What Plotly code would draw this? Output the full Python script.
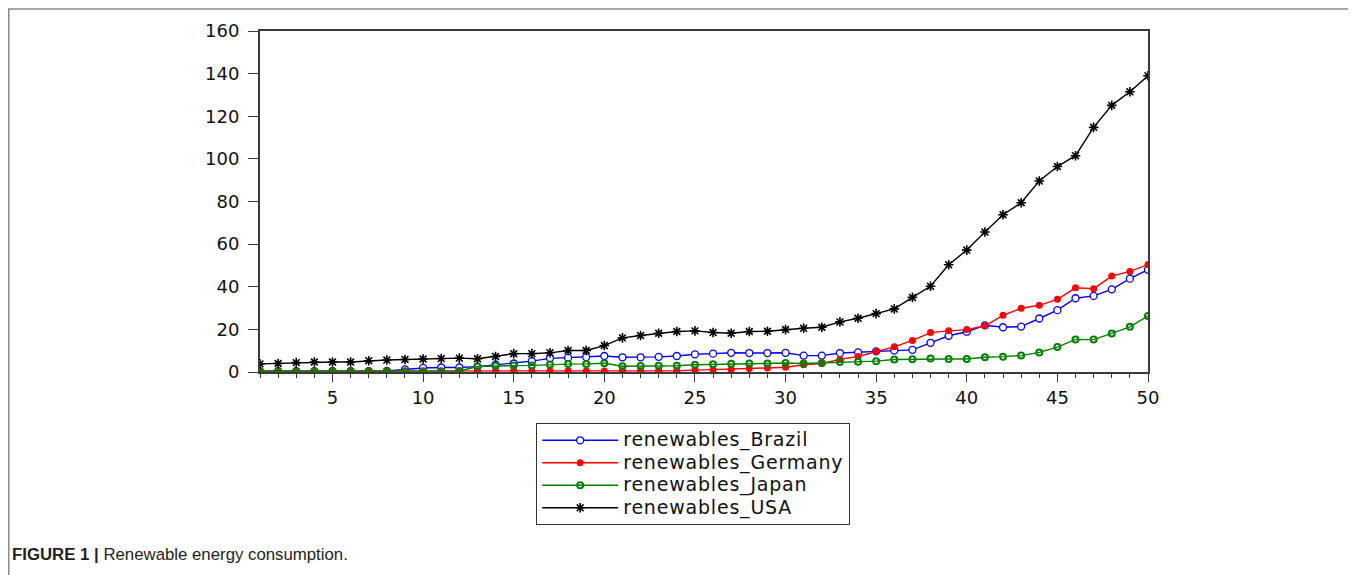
import plotly.graph_objects as go

periods = list(range(1, 51))

brazil = [0.4, 0.4, 0.4, 0.4, 0.4, 0.4, 0.4, 0.5, 1.2, 1.9,
          2.1, 2.1, 2.5, 3.4, 4.0, 5.1, 6.4, 6.7, 7.0, 7.5,
          6.9, 6.9, 7.1, 7.5, 8.3, 8.6, 9.0, 8.9, 8.9, 9.0,
          7.7, 7.7, 8.9, 9.2, 9.7, 10.1, 10.4, 13.7, 17.0, 18.9,
          21.9, 21.0, 21.3, 25.1, 29.0, 34.6, 35.7, 38.8, 43.8, 48.0]

germany = [0.4, 0.4, 0.4, 0.4, 0.4, 0.4, 0.4, 0.4, 0.4, 0.4,
           0.4, 0.4, 0.6, 0.6, 0.6, 0.6, 0.6, 0.6, 0.5, 0.5,
           0.6, 0.6, 0.6, 0.6, 0.9, 1.1, 1.2, 1.6, 1.9, 2.2,
           3.4, 4.0, 5.9, 7.3, 9.7, 11.8, 14.8, 18.5, 19.3, 19.9,
           21.7, 26.6, 29.9, 31.3, 34.1, 39.5, 39.1, 45.0, 47.2, 50.4]

japan = [0.4, 0.4, 0.4, 0.4, 0.4, 0.4, 0.4, 0.4, 0.4, 0.4,
         0.4, 0.5, 2.6, 2.9, 3.0, 3.1, 3.5, 3.7, 3.8, 4.1,
         2.7, 2.8, 2.9, 2.9, 3.4, 3.6, 3.9, 4.0, 4.0, 4.2,
         4.0, 4.2, 4.7, 4.8, 5.1, 5.9, 6.0, 6.3, 6.1, 6.1,
         6.9, 7.2, 7.7, 9.2, 11.7, 15.3, 15.2, 18.1, 21.2, 26.3]

usa = [3.8, 4.0, 4.4, 4.7, 4.7, 4.7, 5.3, 5.6, 5.9, 6.1,
       6.3, 6.5, 6.2, 7.3, 8.6, 8.6, 9.0, 10.1, 10.1, 12.4,
       16.0, 17.1, 18.2, 19.0, 19.3, 18.5, 18.2, 19.0, 19.1, 19.9,
       20.5, 21.0, 23.5, 25.2, 27.4, 29.6, 35.0, 40.2, 50.3, 57.2,
       65.7, 73.8, 79.4, 89.6, 96.4, 101.5, 114.8, 125.1, 131.5, 139.0]

series_names = ["renewables_Brazil", "renewables_Germany", "renewables_Japan", "renewables_USA"]
y_ticks = [0, 20, 40, 60, 80, 100, 120, 140, 160]
x_ticks = [5, 10, 15, 20, 25, 30, 35, 40, 45, 50]
caption_bold = "FIGURE 1 |"
caption_text = "Renewable energy consumption."

# the page body has an 8px margin, so the figure is drawn 8px smaller
OFF = 8
W, H = 1356 - OFF, 575 - OFF
# plot area in page pixels
L, R, T, B = 259.5, 1148.5, 29, 371.7


def px_x(p):
    return (p - L) / (R - L)


def px_y(p):
    return (B - p) / (B - T)


def legend_label(s):
    return '<span style="font-size:19px;letter-spacing:0.8px">' + s + '</span>'


fig = go.Figure()
fig.add_trace(go.Scatter(
    x=periods, y=brazil, name=legend_label(series_names[0]), mode="lines+markers",
    line=dict(color="#0000FF", width=1.4),
    marker=dict(symbol="circle", size=7, color="white", line=dict(color="#0000FF", width=1.3))))
fig.add_trace(go.Scatter(
    x=periods, y=germany, name=legend_label(series_names[1]), mode="lines+markers",
    line=dict(color="#FF0000", width=1.4),
    marker=dict(symbol="circle", size=7, color="#FF0000", line=dict(color="#FF0000", width=0))))
fig.add_trace(go.Scatter(
    x=periods, y=japan, name=legend_label(series_names[2]), mode="lines+markers",
    line=dict(color="#008000", width=1.4),
    marker=dict(symbol="circle-open", size=6, color="#008000", line=dict(color="#008000", width=2))))
fig.add_trace(go.Scatter(
    x=periods, y=usa, name=legend_label(series_names[3]), mode="lines+markers",
    line=dict(color="#000000", width=1.4),
    marker=dict(symbol="asterisk-open", size=8, color="#000000", line=dict(color="#000000", width=1.6))))

axis_color = "#3a3a3a"
tick_font = dict(family="DejaVu Sans", size=18, color="#111111")

fig.update_xaxes(
    range=[1, 50], tickmode="array", tickvals=x_ticks, ticktext=[str(v) for v in x_ticks],
    ticks="outside", ticklen=8, tickwidth=1.2, tickcolor=axis_color,
    minor=dict(dtick=1, tick0=0, ticks="outside", ticklen=4, tickwidth=1, tickcolor=axis_color),
    showline=True, linecolor=axis_color, linewidth=2, mirror=True,
    showgrid=False, zeroline=False, tickfont=tick_font)
fig.update_yaxes(
    range=[0, 160], tickmode="array", tickvals=y_ticks, ticktext=[str(v) for v in y_ticks],
    ticks="outside", ticklen=10, tickwidth=1.2, tickcolor=axis_color, ticklabelstandoff=5,
    showline=True, linecolor=axis_color, linewidth=2, mirror=True,
    showgrid=False, zeroline=False, tickfont=tick_font)

frame = "M {l},{b} L {l},{t} L {r},{t} L {r},{b}".format(
    l=px_x(8), r=px_x(1352), t=px_y(7), b=px_y(600))

fig.update_layout(
    width=W, height=H,
    margin=dict(l=L - OFF, r=(W + OFF) - R, t=T - OFF, b=(H + OFF) - B, pad=0),
    paper_bgcolor="white", plot_bgcolor="white",
    showlegend=True,
    legend=dict(x=px_x(536), y=px_y(423), xanchor="left", yanchor="top",
                bgcolor="white", bordercolor="#333333", borderwidth=1,
                font=dict(family="DejaVu Sans", size=15, color="#111111"),
                itemwidth=76, tracegroupgap=0),
    shapes=[dict(type="path", xref="paper", yref="paper", path=frame,
                 line=dict(color="#8a8a8a", width=1.5))],
    annotations=[dict(xref="paper", yref="paper", x=px_x(9), y=px_y(555),
                      xanchor="left", yanchor="middle", showarrow=False,
                      text="<b>" + caption_bold + "</b> " + caption_text,
                      font=dict(family="Liberation Sans, Arial", size=16.8, color="#231f20"))],
)

fig.write_html("out.html")
